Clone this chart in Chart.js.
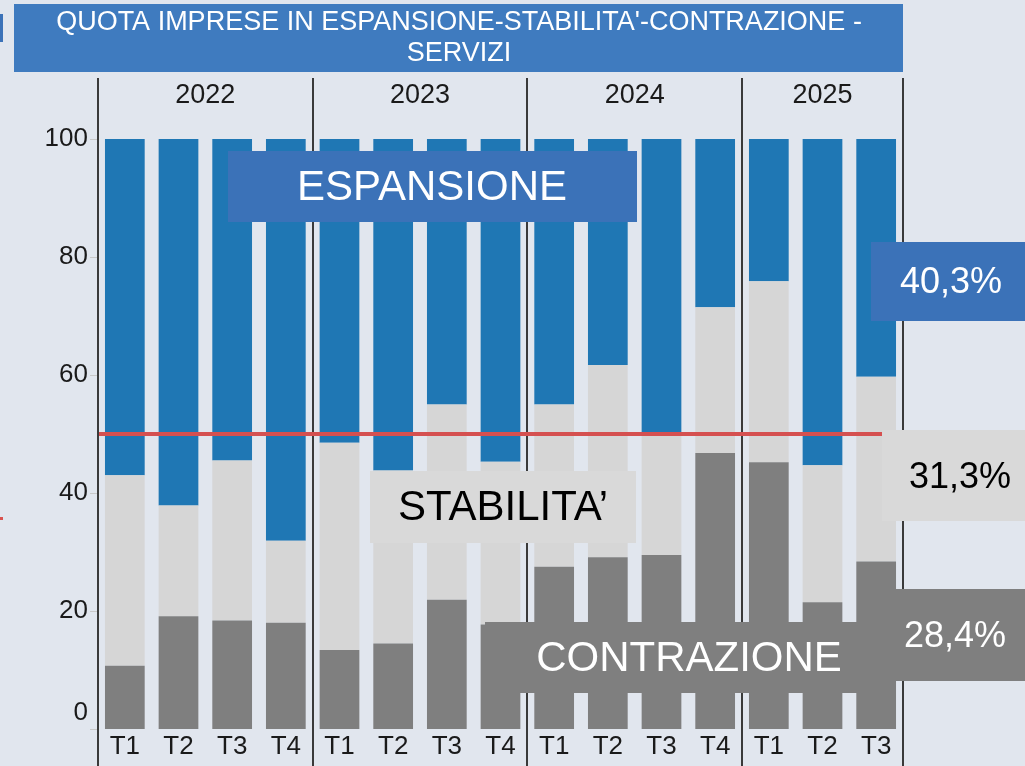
<!DOCTYPE html>
<html>
<head>
<meta charset="utf-8">
<script src="https://cdn.jsdelivr.net/npm/chart.js@4.4.1/dist/chart.umd.min.js"></script>
<style>
  html, body { margin: 0; padding: 0; background: #e1e6ee; }
  #wrap { width: 1025px; height: 766px; position: relative; }
</style>
</head>
<body>
<div id="wrap"><canvas id="chart" width="1025" height="766"></canvas></div>
<script>
// data (share of firms, %)
const quarters = ['T1', 'T2', 'T3', 'T4', 'T1', 'T2', 'T3', 'T4', 'T1', 'T2', 'T3', 'T4', 'T1', 'T2', 'T3'];
const years = ['2022', '2023', '2024', '2025'];
const quartersPerYear = [4, 4, 4, 3];
const contrazione = [10.7, 19.1, 18.4, 18.0, 13.4, 14.5, 21.9, 17.7, 27.5, 29.1, 29.5, 46.8, 45.2, 21.5, 28.4];
const stabilita   = [32.3, 18.8, 27.1, 13.9, 35.1, 29.3, 33.1, 27.6, 27.5, 32.6, 20.8, 24.7, 30.7, 23.2, 31.3];
const espansione  = [57.0, 62.1, 54.5, 68.1, 51.5, 56.2, 45.0, 54.7, 45.0, 38.3, 49.7, 28.5, 24.1, 55.3, 40.3];
const yTicks = [0, 20, 40, 60, 80, 100];
const soglia = 50;
const lastLabels = ['40,3%', '31,3%', '28,4%'];

const FONT = '"Liberation Sans", Arial, sans-serif';
const BLUE_BOX = '#3b72b8';
const LIGHT = '#d6d6d6';
const DARK = '#7f7f7f';

function box(ctx, x, y, w, h, fill, text, color, size, tx, ty) {
  ctx.fillStyle = fill;
  ctx.fillRect(x, y, w, h);
  ctx.fillStyle = color;
  ctx.font = size + 'px ' + FONT;
  ctx.textAlign = 'center';
  ctx.textBaseline = 'middle';
  ctx.fillText(text, tx, ty);
}

const decorations = {
  id: 'decorations',
  beforeDraw(chart) {
    const ctx = chart.ctx;
    ctx.save();
    ctx.fillStyle = '#e1e6ee';
    ctx.fillRect(0, 0, chart.width, chart.height);
    // title banner
    ctx.fillStyle = '#3f7bbf';
    ctx.fillRect(14, 4, 889, 68);
    ctx.fillStyle = '#ffffff';
    ctx.font = '27px ' + FONT;
    ctx.textAlign = 'center';
    ctx.textBaseline = 'middle';
    ctx.fillText("QUOTA IMPRESE IN ESPANSIONE-STABILITA'-CONTRAZIONE -", 459, 23);
    ctx.fillText('SERVIZI', 459, 54);
    // bits at the left edge
    ctx.fillStyle = BLUE_BOX;
    ctx.fillRect(0, 14, 3, 28);
    ctx.fillStyle = '#d9534f';
    ctx.fillRect(0, 517, 3, 3);
    ctx.restore();
  },
  afterDatasetsDraw(chart) {
    const { ctx, chartArea: a, scales: { x, y } } = chart;
    const step = (a.right - a.left) / quarters.length;
    ctx.save();

    // y axis ticks and labels
    ctx.font = '26px ' + FONT;
    ctx.textAlign = 'right';
    ctx.textBaseline = 'middle';
    yTicks.forEach(v => {
      const py = y.getPixelForValue(v);
      ctx.strokeStyle = '#c8c8c8';
      ctx.lineWidth = 1;
      ctx.beginPath();
      ctx.moveTo(a.left - 8, py + 0.5);
      ctx.lineTo(a.left, py + 0.5);
      ctx.stroke();
      ctx.fillStyle = '#1a1a1a';
      ctx.fillText(String(v), a.left - 10, Math.min(py, a.bottom - 16));
    });

    // quarter labels
    ctx.textAlign = 'center';
    quarters.forEach((q, i) => {
      ctx.fillText(q, x.getPixelForValue(i), 747);
    });

    // year separators and year labels
    ctx.strokeStyle = '#3a3a3a';
    ctx.lineWidth = 2;
    let start = 0;
    ctx.font = '27px ' + FONT;
    for (let k = 0; k <= years.length; k++) {
      const px = Math.round(a.left + start * step);
      ctx.beginPath();
      ctx.moveTo(px, 78);
      ctx.lineTo(px, 766);
      ctx.stroke();
      if (k < years.length) {
        const end = start + quartersPerYear[k];
        ctx.fillText(years[k], a.left + (start + end) / 2 * step, 96);
        start = end;
      }
    }

    // 50% threshold
    const py50 = y.getPixelForValue(soglia);
    ctx.strokeStyle = '#d55050';
    ctx.lineWidth = 4;
    ctx.beginPath();
    ctx.moveTo(a.left + 1, py50);
    ctx.lineTo(a.right, py50);
    ctx.stroke();

    // annotation boxes
    box(ctx, 228, 151, 409, 71, BLUE_BOX, 'ESPANSIONE', '#ffffff', 42, 432, 188);
    box(ctx, 871, 242, 154, 79, BLUE_BOX, lastLabels[0], '#ffffff', 36, 951, 283);
    box(ctx, 370, 471, 266, 72, '#d9d9d9', 'STABILITA\u2019', '#000000', 42, 503, 508);
    box(ctx, 882, 430, 143, 91, '#d9d9d9', lastLabels[1], '#000000', 36, 960, 478);
    box(ctx, 485, 622, 410, 71, DARK, 'CONTRAZIONE', '#ffffff', 42, 689, 659);
    box(ctx, 882, 589, 143, 92, DARK, lastLabels[2], '#ffffff', 36, 955, 637);
    ctx.restore();
  }
};

new Chart(document.getElementById('chart'), {
  type: 'bar',
  data: {
    labels: quarters,
    datasets: [
      { label: 'Contrazione', data: contrazione, backgroundColor: DARK },
      { label: 'Stabilità', data: stabilita, backgroundColor: LIGHT },
      { label: 'Espansione', data: espansione, backgroundColor: '#1f77b4' },
    ],
  },
  options: {
    responsive: false,
    animation: false,
    layout: { padding: { left: 98, right: 122, top: 139, bottom: 37 } },
    datasets: { bar: { barPercentage: 0.74, categoryPercentage: 1 } },
    scales: {
      x: { stacked: true, display: false },
      y: { stacked: true, display: false, min: 0, max: 100 },
    },
    plugins: {
      legend: { display: false },
      tooltip: { enabled: false },
    },
  },
  plugins: [decorations],
});
</script>
</body>
</html>
